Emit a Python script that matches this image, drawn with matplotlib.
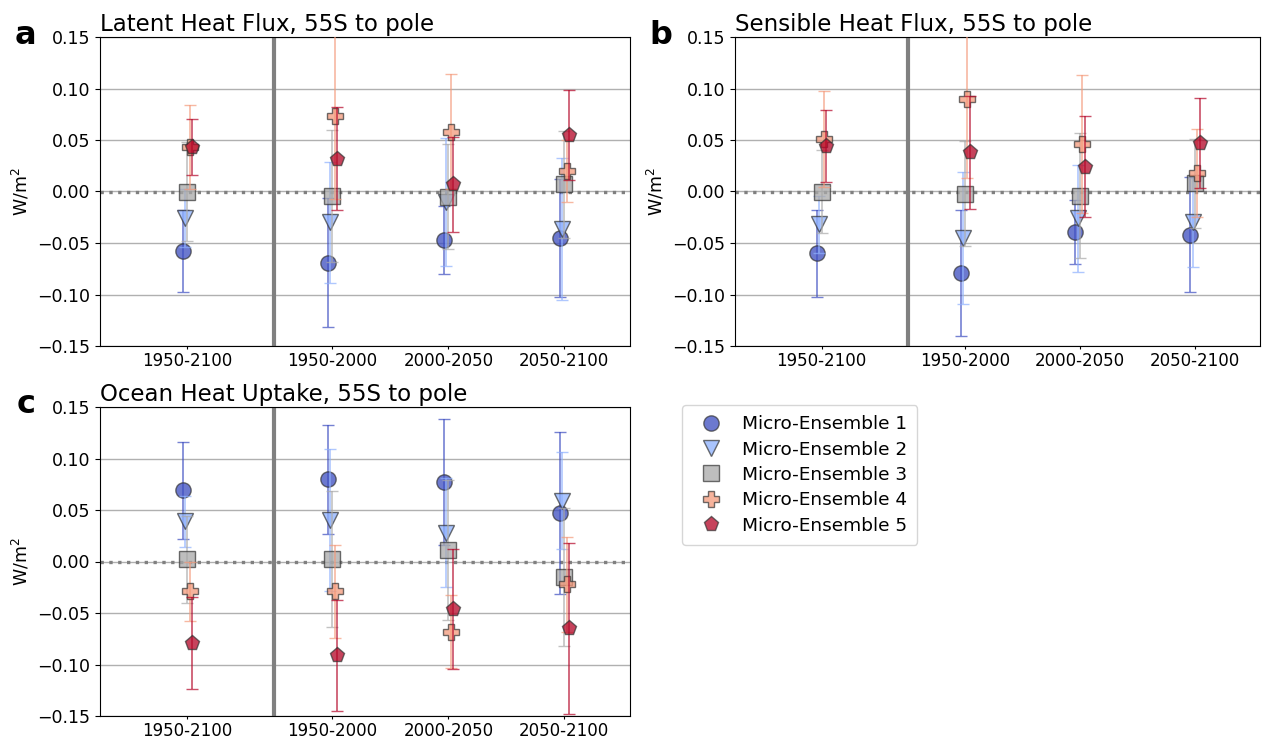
import numpy as np
import matplotlib
matplotlib.use("Agg")
import matplotlib.pyplot as plt
from matplotlib.lines import Line2D
from matplotlib.colors import to_rgba

# Periods on the x axis: the full-run mean, then three 50-year windows
periods = ["1950-2100", "1950-2000", "2000-2050", "2050-2100"]
ensembles = ["Micro-Ensemble 1", "Micro-Ensemble 2", "Micro-Ensemble 3",
             "Micro-Ensemble 4", "Micro-Ensemble 5"]

# Latent heat flux anomaly (W/m^2), rows = ensembles, cols = periods
lh_mean = [[-0.058, -0.069, -0.047, -0.045],
           [-0.026, -0.030, -0.010, -0.036],
           [0.000, -0.004, -0.005, 0.007],
           [0.043, 0.073, 0.058, 0.020],
           [0.043, 0.032, 0.007, 0.055]]
lh_err = [[0.040, 0.063, 0.033, 0.057],
          [0.028, 0.059, 0.062, 0.069],
          [0.048, 0.064, 0.051, 0.052],
          [0.041, 0.080, 0.056, 0.030],
          [0.027, 0.050, 0.046, 0.044]]

# Sensible heat flux anomaly (W/m^2)
sh_mean = [[-0.060, -0.079, -0.039, -0.042],
           [-0.032, -0.045, -0.026, -0.030],
           [0.000, -0.002, -0.004, 0.008],
           [0.051, 0.090, 0.046, 0.018],
           [0.044, 0.038, 0.024, 0.047]]
sh_err = [[0.042, 0.061, 0.031, 0.056],
          [0.028, 0.064, 0.052, 0.043],
          [0.040, 0.051, 0.061, 0.043],
          [0.047, 0.077, 0.067, 0.043],
          [0.035, 0.055, 0.049, 0.044]]

# Ocean heat uptake anomaly (W/m^2)
ohu_mean = [[0.069, 0.080, 0.077, 0.047],
            [0.039, 0.040, 0.028, 0.059],
            [0.002, 0.002, 0.011, -0.015],
            [-0.029, -0.029, -0.068, -0.022],
            [-0.079, -0.091, -0.046, -0.065]]
ohu_err = [[0.047, 0.053, 0.061, 0.079],
           [0.025, 0.069, 0.053, 0.047],
           [0.042, 0.066, 0.068, 0.067],
           [0.029, 0.045, 0.035, 0.046],
           [0.045, 0.054, 0.058, 0.083]]

# Styling per ensemble
markers = ["o", "v", "s", "P", "p"]
fills = ["#3b4cc0", "#8db0fe", "#a9a9a9", "#f49a7b", "#b40426"]
x_pos = np.array([0.0, 1.25, 2.25, 3.25])
offsets = [-0.04, -0.02, 0.0, 0.02, 0.04]
edge = (0.2, 0.2, 0.2, 0.7)

fig = plt.figure(figsize=(12.62, 7.38), dpi=100)
W, H = 1262, 738


def add_axes(left, top, right, bottom):
    return fig.add_axes([left / W, 1 - bottom / H, (right - left) / W, (bottom - top) / H])


ax_a = add_axes(100, 37, 630, 346)
ax_b = add_axes(735, 37, 1260, 346)
ax_c = add_axes(100, 407, 630, 716)

panels = [
    (ax_a, lh_mean, lh_err, "Latent Heat Flux, 55S to pole", "a", (15, 44)),
    (ax_b, sh_mean, sh_err, "Sensible Heat Flux, 55S to pole", "b", (649, 44)),
    (ax_c, ohu_mean, ohu_err, "Ocean Heat Uptake, 55S to pole", "c", (17, 413)),
]

yticks = np.arange(-0.15, 0.151, 0.05)

for ax, means, errs, title, letter, (lx, ly) in panels:
    ax.set_axisbelow(True)
    ax.grid(axis="y", color="#b0b0b0", linewidth=1.0)
    ax.axhline(0, color="gray", linestyle=":", linewidth=2.4, zorder=1)
    ax.axvline(0.75, color="gray", linewidth=3, zorder=1)
    for i in range(5):
        ax.errorbar(x_pos + offsets[i], means[i], yerr=errs[i],
                    fmt=markers[i], markersize=11,
                    markerfacecolor=to_rgba(fills[i], 0.75),
                    markeredgecolor=edge, markeredgewidth=1.0,
                    ecolor=to_rgba(fills[i], 0.7),
                    elinewidth=1.2, capsize=4, capthick=1.2, zorder=3 + i)
    ax.set_xlim(-0.753, 3.816)
    ax.set_ylim(-0.15, 0.15)
    ax.set_yticks(yticks)
    ax.set_yticklabels([f"{v:.2f}".replace("-", "\u2212") for v in yticks])
    ax.set_xticks(x_pos)
    ax.set_xticklabels(periods, fontsize=12)
    ax.tick_params(axis="x", length=2.5, pad=2)
    ax.tick_params(axis="y", labelsize=12.5)
    ax.set_ylabel("W/m$^2$", fontsize=12.5)
    ax.set_title(title, loc="left", fontsize=16.5, pad=4)
    fig.text(lx / W, 1 - ly / H, letter, fontsize=23, fontweight="bold",
             ha="left", va="baseline")

handles = [Line2D([], [], linestyle="none", marker=markers[i], markersize=11,
                  markerfacecolor=to_rgba(fills[i], 0.75), markeredgecolor=edge)
           for i in range(5)]
fig.legend(handles, ensembles, loc="upper left",
           bbox_to_anchor=(682 / W, 1 - 405 / H), borderaxespad=0,
           fontsize=13.3, handletextpad=0.7, borderpad=0.55, labelspacing=0.4)

fig.savefig("out.png", dpi=100)
